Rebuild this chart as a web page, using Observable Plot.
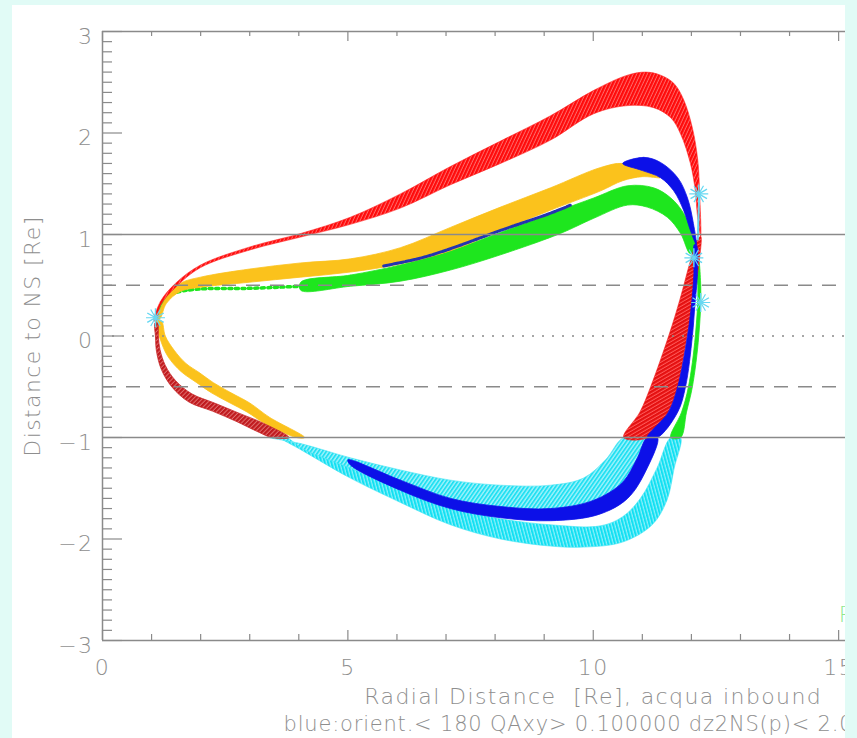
<!DOCTYPE html>
<html><head><meta charset="utf-8">
<script src="https://cdn.jsdelivr.net/npm/d3@7"></script>
<script src="https://cdn.jsdelivr.net/npm/@observablehq/plot@0.6"></script>
<style>
html,body{margin:0;padding:0;background:#e1fbf6;width:857px;height:738px;overflow:hidden}
#wrap{position:absolute;left:12px;top:5px;width:833px;height:733px;background:#fff;overflow:hidden}
</style></head><body><div id="wrap"></div>
<script>
// ---- axis / tick data ----
const xTicksMajor = [0, 5, 10, 15];
const xTickLabels = ["0", "5", "10", "15"];
const xTicksMinor = [1, 2, 3, 4, 6, 7, 8, 9, 11, 12, 13, 14];
const yTicksMajor = [-3, -2, -1, 0, 1, 2, 3];
const yTickLabels = ["−3", "−2", "−1", "0", "1", "2", "3"];
const solidLevels = [-1, 1];
const dashedLevels = [-0.5, 0.5];
const dottedLevels = [0];
const xTitle = "Radial Distance  [Re], acqua inbound";
const yTitle = "Distance to NS [Re]";
const footLine = "blue:orient.< 180 QAxy> 0.100000 dz2NS(p)< 2.00000";

// ---- band outlines [x (Re), distance to NS (Re)] ----
const redUpper = [[1.05,0.15],[1.18,0.34],[1.49,0.52],[2.0,0.70],[3.02,0.88],[4.04,1.01],[5.05,1.17],[6.07,1.40],[7.09,1.67],[8.11,1.92],[9.13,2.17],[10.01,2.42],[10.7,2.57],[11.07,2.60],[11.37,2.57],[11.64,2.49],[11.84,2.33],[12.02,2.05],[12.13,1.73],[12.17,1.38],[12.19,0.98],
  [12.12,1.20],[12.08,1.43],[11.98,1.70],[11.78,1.99],[11.58,2.15],[11.23,2.25],[10.70,2.27],[10.01,2.19],[9.13,1.93],[8.11,1.70],[7.09,1.49],[6.07,1.26],[5.05,1.10],[4.04,0.975],[3.02,0.85],[2.0,0.675],[1.49,0.48],[1.18,0.30],[1.1,0.15]];
const redRight = [[12.19,0.98],[12.16,0.74],[12.04,0.35],[11.92,0.02],[11.72,-0.5],[11.53,-0.75],[11.12,-1.0],
  [10.62,-1.0],[10.95,-0.75],[11.17,-0.5],[11.55,0.02],[11.76,0.35],[11.98,0.74],[12.12,0.95]];
const redLowerLeft = [[1.07,0.13],[1.08,-0.01],[1.1,-0.15],[1.2,-0.33],[1.41,-0.5],[1.76,-0.65],[2.24,-0.74],[2.72,-0.84],[3.15,-0.94],[3.45,-1.0],
  [3.8,-1.0],[3.28,-0.86],[2.78,-0.76],[2.28,-0.66],[1.82,-0.57],[1.49,-0.44],[1.28,-0.29],[1.17,-0.13],[1.14,-0.01],[1.12,0.13]];
const orangeUpper = [[1.12,0.17],[1.3,0.38],[1.59,0.52],[2.0,0.58],[3.0,0.66],[4.04,0.72],[5.05,0.76],[6.07,0.87],[7.09,1.07],[8.11,1.27],[9.13,1.46],[10.15,1.66],[10.6,1.70],[11.0,1.63],[11.37,1.56],
  [11.0,1.57],[10.6,1.53],[10.15,1.43],[9.13,1.24],[8.11,1.04],[7.09,0.84],[6.07,0.71],[5.05,0.63],[4.04,0.58],[3.0,0.53],[2.0,0.48],[1.59,0.44],[1.3,0.32],[1.17,0.17]];
const orangeLowerLeft = [[1.1,0.15],[1.17,-0.02],[1.33,-0.2],[1.6,-0.35],[1.92,-0.46],[2.22,-0.56],[2.6,-0.66],[2.95,-0.75],[3.3,-0.86],[3.95,-1.0],
  [4.12,-1.0],[3.4,-0.8],[3.0,-0.66],[2.62,-0.56],[2.26,-0.46],[1.97,-0.36],[1.7,-0.27],[1.46,-0.14],[1.28,0.0],[1.2,0.15]];
const blueUpper = [[10.6,1.70],[11.03,1.76],[11.37,1.71],[11.72,1.56],[11.92,1.36],[12.04,1.11],[12.1,0.9],
  [11.98,1.04],[11.84,1.24],[11.64,1.43],[11.37,1.56],[11.0,1.63]];
const blueRight = [[12.1,0.9],[12.12,0.6],[12.07,0.3],[12.02,0.0],[11.88,-0.5],[11.72,-0.75],[11.31,-1.0],
  [11.1,-1.0],[11.53,-0.75],[11.72,-0.5],[11.92,0.0],[12.0,0.3],[12.05,0.6],[12.06,0.9]];
const blueLower = [[5.0,-1.22],[6.07,-1.42],[7.09,-1.60],[8.11,-1.68],[9.13,-1.70],[10.0,-1.62],[10.6,-1.44],[10.9,-1.2],[11.1,-1.0],
  [11.31,-1.0],[11.1,-1.3],[10.7,-1.6],[10.1,-1.76],[9.13,-1.82],[8.11,-1.79],[7.09,-1.70],[6.07,-1.52],[5.05,-1.27]];
const blueThin = [[5.73,0.69],[6.5,0.77],[7.09,0.86],[8.11,1.04],[9.13,1.21],[9.54,1.29]];
const greenUpper = [[4.04,0.53],[5.05,0.60],[6.07,0.70],[7.09,0.84],[8.11,1.02],[9.33,1.24],[10.01,1.36],[10.7,1.48],[11.23,1.46],[11.58,1.36],[11.84,1.21],[12.02,1.01],[12.1,0.86],
  [11.98,0.81],[11.78,1.01],[11.51,1.17],[11.1,1.27],[10.7,1.29],[10.01,1.16],[9.33,1.01],[8.11,0.80],[7.09,0.65],[6.07,0.54],[5.05,0.49],[4.04,0.45]];
const greenDots = [[1.13,0.2],[1.24,0.35],[1.45,0.42],[1.9,0.46],[3.0,0.47],[4.04,0.49]];
const greenRight = [[12.1,0.86],[12.19,0.5],[12.15,0.0],[12.02,-0.5],[11.9,-0.75],[11.78,-1.0],
  [11.58,-1.0],[11.8,-0.75],[11.94,-0.5],[12.08,0.0],[12.13,0.5],[12.04,0.84]];
const cyanOuter = [[3.6,-1.0],[4.04,-1.08],[5.05,-1.30],[6.07,-1.50],[7.09,-1.68],[8.11,-1.80],[9.13,-1.86],[10.15,-1.87],[10.6,-1.78],[10.96,-1.6],[11.3,-1.3],[11.58,-1.0],
  [11.78,-1.0],[11.65,-1.3],[11.5,-1.62],[11.2,-1.86],[10.6,-2.03],[9.8,-2.08],[9.13,-2.07],[8.11,-2.0],[7.09,-1.86],[6.07,-1.64],[5.05,-1.40],[4.5,-1.25],[4.04,-1.12]];
const cyanInner = [[3.4,-1.0],[4.04,-1.06],[5.05,-1.2],[6.07,-1.32],[7.09,-1.42],[8.11,-1.47],[9.13,-1.47],[9.8,-1.40],[10.25,-1.22],[10.62,-1.0],
  [11.1,-1.0],[10.9,-1.2],[10.6,-1.45],[10.1,-1.62],[9.13,-1.72],[8.11,-1.70],[7.09,-1.62],[6.07,-1.48],[5.05,-1.3],[4.04,-1.1],[3.75,-1.0]];
const cyanSpine = [[12.16,1.4],[12.13,0.95]];
const stars = [[1.08,0.18],[12.15,1.40],[12.05,0.77],[12.19,0.33]];

const C = {red:"#ff1c1c", darkRed:"#c8282a", orange:"#fbc21c", green:"#1ee61e", blue:"#0c10e8", navy:"#2434b0", cyan:"#34e4f4", star:"#66d8f2", axis:"#8a8a8a", text:"#8e8e8e"};
const P = a => a.map(([x, y]) => ({x, y}));
const band = (pts, fill, stroke, sw = 0.8) => Plot.line(P(pts), {x: "x", y: "y", fill, stroke, strokeWidth: sw, curve: "catmull-rom-closed"});

const W = 833, H = 733, mL = 90, mT = 26, mB = 98;
const frameH = H - mT - mB, frameW = W - mL;
const font = "'DejaVu Sans', sans-serif";
const T = {fill: C.text, fontSize: 22, fontWeight: 200, lineAnchor: "middle"};

const chart = Plot.plot({
  width: W, height: H, marginLeft: mL, marginRight: 0, marginTop: mT, marginBottom: mB,
  x: {domain: [0, 15.14], axis: null},
  y: {domain: [-3, 3], axis: null},
  style: {background: "white", fontFamily: font, overflow: "hidden"},
  marks: [
    band(cyanOuter, "url(#hCyan)", "#3ee4f4", 0.6),
    band(cyanInner, "url(#hCyan2)", "#4ee6f4", 0.6),
    band(blueLower, C.blue, C.blue),
    band(greenUpper, C.green, C.green),
    band(greenRight, C.green, C.green),
    Plot.line(P(greenDots), {x: "x", y: "y", stroke: C.green, strokeWidth: 3.5, strokeDasharray: "3,3.5", curve: "catmull-rom"}),
    band(orangeUpper, C.orange, C.orange),
    band(orangeLowerLeft, C.orange, C.orange),
    band(redLowerLeft, "url(#hDark)", C.darkRed, 0.8),
    band(redRight, "url(#hRed2)", "#f01818", 0.6),
    band(blueRight, C.blue, C.blue),
    band(redUpper, "url(#hRed)", "#ff2020", 0.6),
    band(blueUpper, C.blue, C.blue),
    Plot.line(P(blueThin), {x: "x", y: "y", stroke: C.navy, strokeWidth: 3, strokeDasharray: "4,1.5", curve: "catmull-rom"}),
    Plot.line(P(cyanSpine), {x: "x", y: "y", stroke: C.star, strokeWidth: 2}),
    Plot.dot(P(stars), {x: "x", y: "y", symbol: "asterisk", r: 9, stroke: C.star, strokeWidth: 1.4}),
    Plot.dot(P(stars), {x: "x", y: "y", symbol: "asterisk", r: 9, rotate: 90, stroke: C.star, strokeWidth: 1.2}),
    // reference levels
    Plot.ruleY(solidLevels, {stroke: C.axis, strokeWidth: 1.4}),
    Plot.ruleY(dashedLevels, {stroke: C.axis, strokeWidth: 1.4, strokeDasharray: "14,10"}),
    Plot.ruleY(dottedLevels, {stroke: C.axis, strokeWidth: 1.6, strokeDasharray: "2,8"}),
    // frame
    Plot.ruleX([0], {stroke: C.axis, strokeWidth: 1.5}),
    Plot.ruleY([-3, 3], {stroke: C.axis, strokeWidth: 1.5}),
    // ticks
    Plot.ruleX(xTicksMajor, {stroke: C.axis, strokeWidth: 1.2, insetTop: frameH - 10}),
    Plot.ruleX(xTicksMinor, {stroke: C.axis, strokeWidth: 1.2, insetTop: frameH - 6}),
    Plot.ruleX(xTicksMajor, {stroke: C.axis, strokeWidth: 1.2, insetBottom: frameH - 10}),
    Plot.ruleX(xTicksMinor, {stroke: C.axis, strokeWidth: 1.2, insetBottom: frameH - 5}),
    Plot.ruleY(yTicksMajor, {stroke: C.axis, strokeWidth: 1.2, insetRight: frameW - 20}),
    Plot.ruleY(d3.range(-29, 30).map(i => i / 10).filter(v => Math.abs(v - Math.round(v)) > 1e-6), {stroke: C.axis, strokeWidth: 1.2, insetRight: frameW - 10}),
    // labels
    Plot.text(xTicksMajor, {...T, x: d => d, text: (d, i) => xTickLabels[i], frameAnchor: "bottom", dy: 27}),
    Plot.text(yTicksMajor, {...T, y: d => d, text: (d, i) => yTickLabels[i], frameAnchor: "left", dx: -9, dy: 5, textAnchor: "end"}),
    Plot.text([xTitle], {...T, x: 10, text: d => d, frameAnchor: "bottom", dy: 56, textAnchor: "middle"}),
    Plot.text([footLine], {...T, fontSize: 21, x: 3.69, text: d => d, frameAnchor: "bottom", dy: 84, textAnchor: "start"}),
    Plot.text([yTitle], {...T, y: 0, text: d => d, frameAnchor: "left", dx: -70, rotate: -90, textAnchor: "middle"}),
    Plot.text(["R"], {...T, x: 15.0, y: -2.75, text: d => d, textAnchor: "start", fill: "#8fe88f"})
  ]
});
const defs = document.createElementNS("http://www.w3.org/2000/svg", "defs");
const hatch = (id, bg, fg, w, angle) => `<pattern id="${id}" patternUnits="userSpaceOnUse" width="3.2" height="3.2" patternTransform="rotate(${angle})"><rect width="3.2" height="3.2" fill="${bg}"/><rect width="${w}" height="3.2" fill="${fg}"/></pattern>`;
defs.innerHTML = hatch("hRed", "#ff6a6a", "#ff0a0a", 2.2, 25) + hatch("hRed2", "#ff5a5a", "#e41010", 2.2, 60)
  + hatch("hDark", "#e07070", "#c01a1e", 2.2, 45) + hatch("hCyan", "#8cf0fa", "#12e0f2", 2.0, -15) + hatch("hCyan2", "#a0f2fb", "#22e0f2", 1.8, 35);
chart.insertBefore(defs, chart.firstChild);
document.getElementById("wrap").appendChild(chart);
chart.querySelectorAll("text").forEach(t => {
  const s = (t.textContent || "").includes("orient") ? "0.8px" : "1.4px";
  t.setAttribute("letter-spacing", s);
  t.style.setProperty("letter-spacing", s, "important");
});
</script></body></html>
